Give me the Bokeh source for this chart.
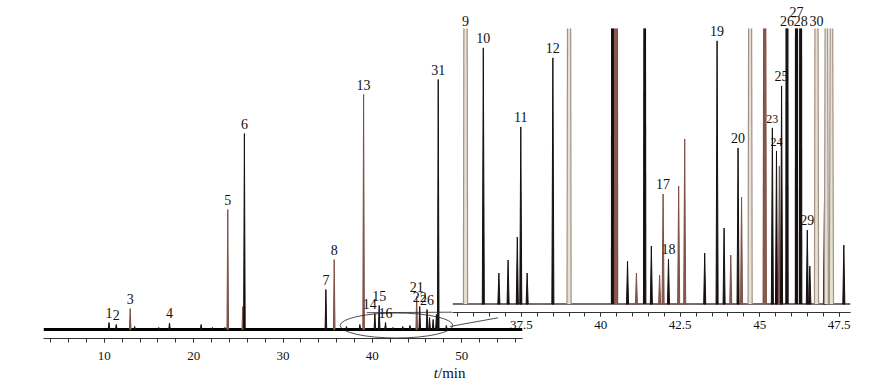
from bokeh.plotting import figure
from bokeh.models import ColumnDataSource, LabelSet, Label, FixedTicker
from bokeh.embed import file_html
from bokeh.resources import INLINE

# ---------------- data: full chromatogram (retention time / min, relative response) ----------------
MAIN_T = [10.53, 11.34, 12.90, 13.40, 16.10, 17.30, 20.84, 22.10, 23.50, 23.82, 25.50, 25.68,
          34.80, 35.73, 37.10, 38.60, 39.02, 40.28, 40.76, 41.47, 42.30, 43.40, 44.20, 44.96,
          45.30, 46.12, 46.40, 46.80, 47.17, 47.37, 48.28]
MAIN_H = [7, 5, 21, 3, 2, 6.5, 5, 2, 2, 120, 23, 196,
          40, 70, 3, 5, 235, 16, 24, 7, 2, 3, 4, 33,
          23, 20, 12, 10, 15, 250, 4]
MAIN_TRACE = ["k", "k", "b", "k", "k", "k", "k", "k", "k", "b", "b", "k",
              "k", "b", "k", "k", "b", "k", "k", "k", "k", "k", "k", "b",
              "k", "k", "k", "k", "k", "k", "k"]
MAIN_LABEL = ["1", "2", "3", "", "", "4", "", "", "", "5", "", "6",
              "7", "8", "", "", "13", "14", "15", "16", "", "", "", "21",
              "22", "26", "", "", "", "31", ""]
MAIN_TICKS = [10, 20, 30, 40, 50]
MAIN_TICK_LABELS = ["10", "20", "30", "40", "50"]
MAIN_MINOR = [4, 6, 8, 10, 12, 14, 16, 18, 20, 22, 24, 26, 28, 30, 32, 34, 36, 38, 40,
              42, 44, 46, 48, 50, 52, 54, 56]

# ---------------- data: enlarged section 35.3-47.9 min ----------------
INSET_T = [35.74, 36.30, 36.79, 37.08, 37.37, 37.48, 37.68, 38.49, 39.00, 40.37, 40.48,
           40.84, 41.12, 41.38, 41.59, 41.85, 41.96, 42.13, 42.45, 42.64, 43.27, 43.66,
           43.88, 44.09, 44.32, 44.43, 44.70, 45.16, 45.40, 45.53, 45.62, 45.69, 45.86,
           46.16, 46.29, 46.50, 46.58, 46.79, 47.04, 47.10, 47.26, 47.65]
INSET_H = [1500, 256, 31, 44, 67, 177, 31, 246, 1200, 2000, 1800,
           43, 31, 900, 58, 29, 110, 45, 118, 165, 51, 263,
           76, 49, 156, 107, 1000, 800, 176, 153, 138, 218, 1500,
           2500, 1500, 74, 38, 1200, 101, 700, 700, 59]
INSET_TRACE = ["l", "k", "k", "k", "k", "k", "k", "k", "l", "k", "b",
               "k", "b", "k", "k", "b", "b", "k", "b", "b", "k", "k",
               "k", "b", "k", "b", "l", "b", "k", "k", "b", "k", "k",
               "k", "k", "k", "k", "l", "k", "l", "l", "k"]
INSET_LABEL = ["9", "10", "", "", "", "11", "", "12", "", "", "",
               "", "", "", "", "", "17", "18", "", "", "", "19",
               "", "", "20", "", "", "", "23", "24", "", "25", "26",
               "27", "28", "29", "", "30", "", "", "", ""]
INSET_TICKS = [37.5, 40, 42.5, 45, 47.5]
INSET_TICK_LABELS = ["37.5", "40", "42.5", "45", "47.5"]
INSET_MINOR = [35.5, 36, 36.5, 37, 37.5, 38, 38.5, 39, 39.5, 40, 40.5, 41, 41.5, 42, 42.5,
               43, 43.5, 44, 44.5, 45, 45.5, 46, 46.5, 47, 47.5]
INSET_FULL_SCALE = 275.3   # response at which the enlarged trace is cut off

# zoomed window as marked on the full chromatogram (min)
ZOOM_WINDOW = (36.4, 49.0)

# ---------------- styles ----------------
FONT = "Liberation Serif"
LINE = {"k": "#161010", "b": "#7d5046", "l": "#a39186"}
FILL = {"k": "#161010", "b": "#8a5a4e", "l": "#e6e1d4"}
WIDE_HW = {"k": 0.035, "b": 0.05, "l": 0.065}
LABEL_NUDGE = {"14": (-5, 0), "27": (0, 9)}
LABEL_SIZE = {"23": "12px", "24": "12px"}

MAIN_X = (3.2, 56.8)
MAIN_Y = (-9, 279)
INSET_X = (35.33, 47.86)
INSET_Y = (-8.4, 301.3)


def peak_sources(ts, hs, traces, cut, hw_narrow):
    """Narrow peaks as filled triangles; off-scale peaks cut at full scale (sides only)."""
    tri = dict(xs=[], ys=[], lc=[], fc=[])
    cut_fill = dict(xs=[], ys=[], fc=[])
    cut_side = dict(xs=[], ys=[], lc=[])
    for t, h, tr in zip(ts, hs, traces):
        if h <= cut:
            tri["xs"].append([t - hw_narrow, t, t + hw_narrow])
            tri["ys"].append([0, h, 0])
            tri["lc"].append(LINE[tr])
            tri["fc"].append(FILL[tr])
        else:
            hw = WIDE_HW[tr]
            top_hw = hw * (1 - cut / h)
            cut_fill["xs"].append([t - hw, t - top_hw, t + top_hw, t + hw])
            cut_fill["ys"].append([0, cut, cut, 0])
            cut_fill["fc"].append(FILL[tr])
            for a, b in ((t - hw, t - top_hw), (t + hw, t + top_hw)):
                cut_side["xs"].append([a, b])
                cut_side["ys"].append([0, cut])
                cut_side["lc"].append(LINE[tr])
    return (ColumnDataSource(tri), ColumnDataSource(cut_fill), ColumnDataSource(cut_side))


def label_source(ts, hs, labels, cut):
    d = dict(x=[], y=[], text=[], dx=[], dy=[], size=[])
    for t, h, lab in zip(ts, hs, labels):
        if not lab:
            continue
        clipped = h > cut
        d["x"].append(t)
        d["y"].append(min(h, cut))
        d["text"].append(lab)
        nx, ny = LABEL_NUDGE.get(lab, (0, 0))
        d["dx"].append(nx)
        d["dy"].append(ny + (3 if clipped else 5))
        d["size"].append(LABEL_SIZE.get(lab, "14px"))
    return ColumnDataSource(d)


def style_axis(ax, ticks, labels, minor, standoff):
    ax.ticker = FixedTicker(ticks=ticks, minor_ticks=minor)
    ax.major_label_overrides = {t: s for t, s in zip(ticks, labels)}
    ax.major_tick_in = 0
    ax.minor_tick_in = 0
    ax.major_tick_out = 4
    ax.minor_tick_out = 4
    ax.major_label_standoff = standoff
    ax.major_label_text_font = FONT
    ax.major_label_text_font_size = "13px"
    ax.major_label_text_color = "#111111"
    ax.axis_line_color = "#333333"
    ax.major_tick_line_color = "#333333"
    ax.minor_tick_line_color = "#333333"


def draw_peaks(fig, ts, hs, traces, cut, hw_narrow):
    tri, cfill, cside = peak_sources(ts, hs, traces, cut, hw_narrow)
    fig.patches(xs="xs", ys="ys", source=tri, line_color="lc", fill_color="fc", line_width=1)
    if len(cfill.data["xs"]):
        fig.patches(xs="xs", ys="ys", source=cfill, line_color=None, fill_color="fc")
        fig.multi_line(xs="xs", ys="ys", source=cside, line_color="lc", line_width=1.2)


def add_labels(fig, ts, hs, labels, cut):
    fig.add_layout(LabelSet(x="x", y="y", text="text", x_offset="dx", y_offset="dy",
                            text_font_size="size", source=label_source(ts, hs, labels, cut),
                            text_font=FONT, text_align="center", text_baseline="bottom",
                            text_color="#111111"))


# ---------------- main chromatogram ----------------
p = figure(width=532, height=383, x_range=MAIN_X, y_range=MAIN_Y,
           output_backend="svg", toolbar_location=None, y_axis_location=None,
           min_border_left=43, min_border_right=10, min_border_top=50, min_border_bottom=45,
           outline_line_color=None)
p.grid.visible = False
style_axis(p.xaxis[0], MAIN_TICKS, MAIN_TICK_LABELS, MAIN_MINOR, 9)

p.line(x=list(MAIN_X), y=[0, 0], line_color="#000000", line_width=3)
draw_peaks(p, MAIN_T, MAIN_H, MAIN_TRACE, MAIN_Y[1], 0.09)
add_labels(p, MAIN_T, MAIN_H, MAIN_LABEL, MAIN_Y[1])

# zoom marker: ellipse around the enlarged window and pointer lines toward the inset
zc = (ZOOM_WINDOW[0] + ZOOM_WINDOW[1]) / 2
zw = ZOOM_WINDOW[1] - ZOOM_WINDOW[0]
p.ellipse(x=[zc], y=[4], width=[zw], height=[25], fill_color=None,
          line_color="#222222", line_width=0.8)
p.line(x=[zc - zw * 0.265, ZOOM_WINDOW[1] - 0.1], y=[16.8, 17.3], line_color="#222222", line_width=0.8)
p.line(x=[ZOOM_WINDOW[1] - 0.34, ZOOM_WINDOW[1] + 5.06], y=[3, 11.7], line_color="#222222", line_width=0.8)

# ---------------- enlarged inset ----------------
q = figure(width=410, height=337, x_range=INSET_X, y_range=INSET_Y,
           output_backend="svg", toolbar_location=None, y_axis_location=None,
           min_border_left=2, min_border_right=10, min_border_top=2, min_border_bottom=25,
           outline_line_color=None, background_fill_alpha=0, border_fill_alpha=0,
           styles={"position": "absolute", "left": "450px", "top": "0px"})
q.grid.visible = False
style_axis(q.xaxis[0], INSET_TICKS, INSET_TICK_LABELS, INSET_MINOR, 4)

q.line(x=list(INSET_X), y=[0, 0], line_color="#4a3a35", line_width=1.5)
draw_peaks(q, INSET_T, INSET_H, INSET_TRACE, INSET_FULL_SCALE, 0.032)
add_labels(q, INSET_T, INSET_H, INSET_LABEL, INSET_FULL_SCALE)

# ---------------- axis title "t/min" (italic t) ----------------
r = figure(width=80, height=24, x_range=(0, 80), y_range=(0, 24),
           output_backend="svg", toolbar_location=None, x_axis_location=None,
           y_axis_location=None, min_border=0, outline_line_color=None,
           background_fill_alpha=0, border_fill_alpha=0,
           styles={"position": "absolute", "left": "400px", "top": "360px"})
r.grid.visible = False
r.add_layout(Label(x=37.5, y=11.5, text="t", text_font=FONT, text_font_style="italic",
                   text_font_size="15px", text_align="right", text_baseline="middle",
                   text_color="#111111"))
r.add_layout(Label(x=37.5, y=11.5, text="/min", text_font=FONT,
                   text_font_size="15px", text_align="left", text_baseline="middle",
                   text_color="#111111"))

open("out.html", "w").write(file_html([p, q, r], INLINE))
